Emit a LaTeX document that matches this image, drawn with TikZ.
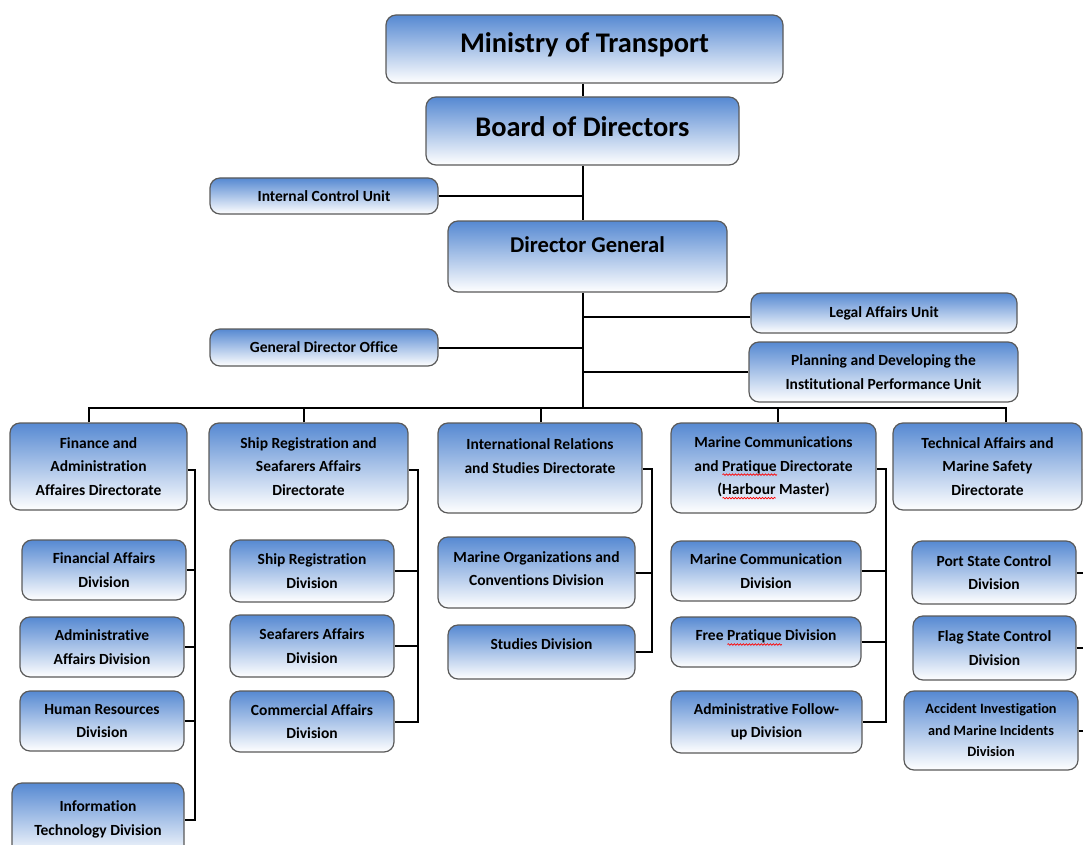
\documentclass[tikz,border=0pt]{standalone}
\usepackage{fontspec}
\setmainfont{Carlito}[Ligatures={NoCommon}]
\usetikzlibrary{decorations.pathmorphing}

\definecolor{boxblue}{RGB}{86,137,210}
\definecolor{boxline}{RGB}{90,90,90}

% red spell-check wave under a word
\newsavebox{\squigbox}
\newcommand{\squig}[1]{\sbox{\squigbox}{#1}\rlap{\tikz[baseline=0pt]\draw[red,line width=0.7pt,sharp corners,decorate,decoration={snake,amplitude=0.8pt,segment length=3pt}] (0pt,-3.5pt) -- (\wd\squigbox,-3.5pt);}\usebox{\squigbox}}

\begin{document}
\begin{tikzpicture}[x=1pt,y=-1pt,
  org node/.style={draw=boxline,line width=1.2pt,rounded corners=10pt,top color=boxblue,bottom color=white,align=center,inner sep=0pt,font=\bfseries\fontsize{15.5}{23.5}\selectfont},
  head node/.style={org node,font=\bfseries\fontsize{28.4}{34}\selectfont},
  box size/.style 2 args={minimum width=#1pt,minimum height=#2pt},
  wire/.style={line width=2pt,black}]

  \useasboundingbox (0,0) rectangle (1083,845);

  % top of the chart
  \node[head node, box size={397}{68}, text depth=12pt] (mot) at (584.5,49) {Ministry of Transport};
  \node[head node, box size={313}{68}, text depth=8pt] (bod) at (582.5,131) {Board of Directors};
  \node[org node, box size={228}{36}] (icu) at (324,196) {Internal Control Unit};
  \node[org node, box size={279}{71}, font=\bfseries\fontsize{22.6}{27}\selectfont, text depth=24pt] (dg) at (587.5,256.5) {Director General};
  \node[org node, box size={266}{40}] (lau) at (884,313) {Legal Affairs Unit};
  \node[org node, box size={228}{37}] (gdo) at (324,347.5) {General Director Office};
  \node[org node, box size={269}{60}] (pdu) at (883.5,372) {Planning and Developing the\\Institutional Performance Unit};

  % directorates
  \node[org node, box size={177}{87}] (fin) at (98.5,466.5) {Finance and\\Administration\\Affaires Directorate};
  \node[org node, box size={199}{87}] (ship) at (308.5,466.5) {Ship Registration and\\Seafarers Affairs\\Directorate};
  \node[org node, box size={204}{90}, text depth=24pt] (intl) at (540,468) {International Relations\\and Studies Directorate};
  \node[org node, box size={205}{90}] (marine) at (773.5,468) {Marine Communications\\and \squig{Pratique} Directorate\\(\squig{Harbour} Master)};
  \node[org node, box size={189}{87}] (tech) at (987.5,466.5) {Technical Affairs and\\Marine Safety\\Directorate};

  % divisions
  \node[org node, box size={164}{60}] (finaff) at (104,570) {Financial Affairs\\Division};
  \node[org node, box size={164}{60}] (admaff) at (102,647) {Administrative\\Affairs Division};
  \node[org node, box size={164}{60}] (hr) at (102,721) {Human Resources\\Division};
  \node[org node, box size={172}{74}, text depth=4pt] (it) at (98,820) {Information\\Technology Division};

  \node[org node, box size={164}{62}] (shipreg) at (312,571) {Ship Registration\\Division};
  \node[org node, box size={164}{62}] (seaf) at (312,646) {Seafarers Affairs\\Division};
  \node[org node, box size={164}{61}] (comm) at (312,721.5) {Commercial Affairs\\Division};

  \node[org node, box size={197}{71}, text depth=8pt] (morg) at (536.5,572.5) {Marine Organizations and\\Conventions Division};
  \node[org node, box size={187}{54}, text depth=16pt] (stud) at (541.5,652) {Studies Division};

  \node[org node, box size={190}{60}] (mcom) at (766,571) {Marine Communication\\Division};
  \node[org node, box size={190}{50}, text depth=13pt] (freep) at (766,642) {Free \squig{Pratique} Division};
  \node[org node, box size={191}{62}] (follow) at (766.5,722) {Administrative Follow-\\up Division};

  \node[org node, box size={164}{63}] (psc) at (994,572.5) {Port State Control\\Division};
  \node[org node, box size={163}{64}] (fsc) at (994.5,648) {Flag State Control\\Division};
  \node[org node, box size={174}{79}, font=\bfseries\fontsize{14.3}{21.5}\selectfont] (acc) at (991,730.5) {Accident Investigation\\and Marine Incidents\\Division};

  % main line
  \coordinate (bus) at (582.5,408);
  \draw[wire] (bod.north |- mot.south) to (bod.north);
  \draw[wire] (bod.south) to (dg.north -| bod);
  \draw[wire] (dg.south -| bod) to (bus);
  \draw[wire] (icu) to (icu -| bod);
  \draw[wire] ([yshift=-4pt]lau.west) to ([yshift=-4pt]lau.west -| bod);
  \draw[wire] (gdo) to (gdo -| bod);
  \draw[wire] (pdu) to (pdu -| bod);

  \draw[wire] ([xshift=-9.5pt]fin.north) |- ([xshift=18.5pt]tech.north |- bus) -- ([xshift=18.5pt]tech.north);
  \foreach \n/\s in {ship/-4.5,intl/1,marine/4.5}
    \draw[wire] ([xshift=\s pt]\n.north) to ([xshift=\s pt]\n.north |- bus);

  % directorate buses
  \coordinate (finbus) at (195,470);
  \draw[wire] (fin.east |- finbus) -- (finbus) |- (it);
  \foreach \n in {finaff,admaff,hr}
    \draw[wire] (\n) -- (\n -| finbus);

  \coordinate (shipbus) at (418,470);
  \draw[wire] (ship.east |- shipbus) -- (shipbus) |- (comm);
  \foreach \n in {shipreg,seaf}
    \draw[wire] (\n) -- (\n -| shipbus);

  \coordinate (intlbus) at (652,469);
  \draw[wire] (intl.east |- intlbus) -- (intlbus) |- (stud);
  \draw[wire] (morg) -- (morg -| intlbus);

  \coordinate (marbus) at (886,469);
  \draw[wire] (marine.east |- marbus) -- (marbus) |- (follow);
  \foreach \n in {mcom,freep}
    \draw[wire] (\n) -- (\n -| marbus);

  \coordinate (techbus) at (1094,470);
  \draw[wire] (tech.east |- techbus) -- (techbus) |- (acc);
  \foreach \n in {psc,fsc}
    \draw[wire] (\n) -- (\n -| techbus);
\end{tikzpicture}
\end{document}
